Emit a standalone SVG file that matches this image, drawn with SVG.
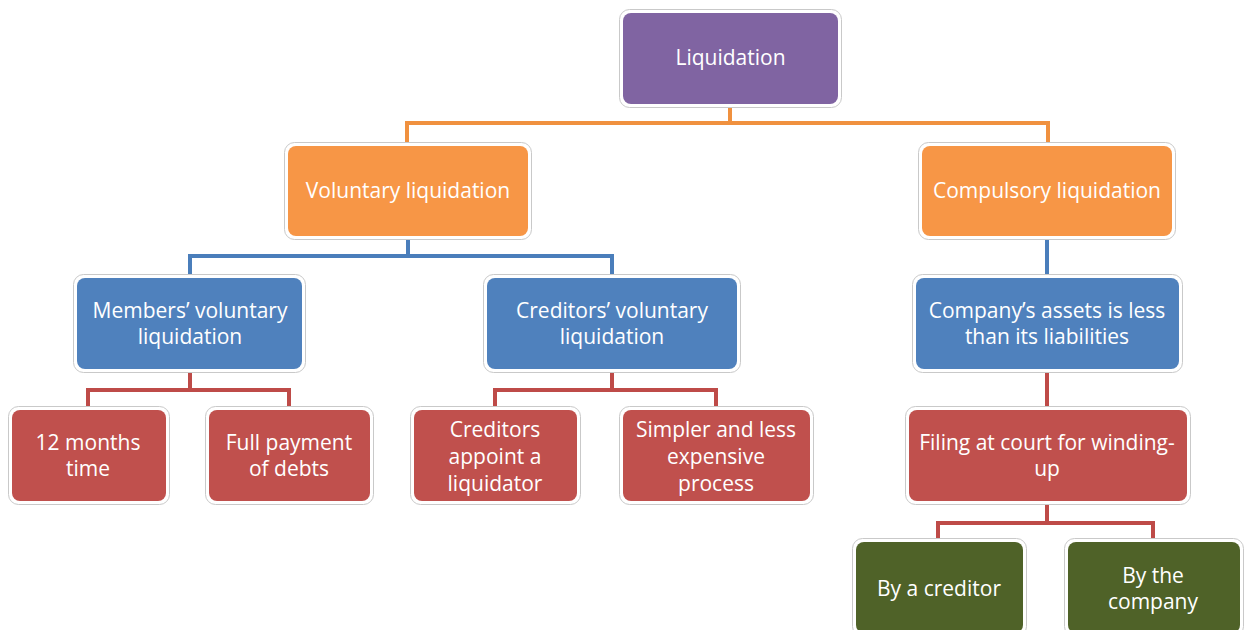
<svg xmlns="http://www.w3.org/2000/svg" width="1244" height="630" viewBox="0 0 1244 630">
  <style>
    .frame { fill: #ffffff; stroke: #c9c9c9; stroke-width: 1; }
    .purple { fill: #8064A2; }
    .orange { fill: #F79646; }
    .blue { fill: #4F81BD; }
    .red { fill: #C0504D; }
    .green { fill: #4F6228; }
    text { font-family: "Open Sans", "Noto Sans", sans-serif; font-size: 21px; fill: #ffffff; text-anchor: middle; dominant-baseline: central; }
    .c-orange { fill: none; stroke: #F0913F; stroke-width: 4; }
    .c-blue { fill: none; stroke: #4A7EBB; stroke-width: 4; }
    .c-red { fill: none; stroke: #BE4B48; stroke-width: 4; }
  </style>

  <!-- connectors -->
  <g id="connectors">
    <path class="c-orange" d="M730,106 V123 M407,123 H1048 M407,121 V145 M1048,121 V145"/>
    <path class="c-blue" d="M408,238 V256 M190,256 H612 M190,254 V277 M612,254 V277"/>
    <path class="c-blue" d="M1047,238 V277"/>
    <path class="c-red" d="M190,372 V390 M88,390 H289 M88,388 V409 M289,388 V409"/>
    <path class="c-red" d="M612,372 V390 M495,390 H716 M495,388 V409 M716,388 V409"/>
    <path class="c-red" d="M1047,372 V409"/>
    <path class="c-red" d="M1047,504 V523 M938,523 H1153 M938,521 V541 M1153,521 V541"/>
  </g>

  <!-- level 0 -->
  <g id="liquidation">
    <rect class="frame" x="619.5" y="9.5" width="222" height="98" rx="10"/>
    <rect class="purple" x="623" y="13" width="215" height="91" rx="8"/>
    <text x="730.5" y="57">Liquidation</text>
  </g>

  <!-- level 1 -->
  <g id="voluntary">
    <rect class="frame" x="284.5" y="142.5" width="247" height="97" rx="10"/>
    <rect class="orange" x="288" y="146" width="240" height="90" rx="8"/>
    <text x="408" y="190">Voluntary liquidation</text>
  </g>
  <g id="compulsory">
    <rect class="frame" x="918.5" y="142.5" width="257" height="97" rx="10"/>
    <rect class="orange" x="922" y="146" width="250" height="90" rx="8"/>
    <text x="1047" y="190">Compulsory liquidation</text>
  </g>

  <!-- level 2 -->
  <g id="members">
    <rect class="frame" x="73.5" y="274.5" width="232" height="98" rx="10"/>
    <rect class="blue" x="77" y="278" width="225" height="91" rx="8"/>
    <text x="190" y="310">Members’ voluntary</text>
    <text x="190" y="336">liquidation</text>
  </g>
  <g id="creditors">
    <rect class="frame" x="483.5" y="274.5" width="257" height="98" rx="10"/>
    <rect class="blue" x="487" y="278" width="250" height="91" rx="8"/>
    <text x="612" y="310">Creditors’ voluntary</text>
    <text x="612" y="336">liquidation</text>
  </g>
  <g id="assets">
    <rect class="frame" x="912.5" y="274.5" width="270" height="98" rx="10"/>
    <rect class="blue" x="916" y="278" width="263" height="91" rx="8"/>
    <text x="1047" y="310">Company’s assets is less</text>
    <text x="1047" y="336">than its liabilities</text>
  </g>

  <!-- level 3 -->
  <g id="months">
    <rect class="frame" x="8.5" y="406.5" width="161" height="98" rx="10"/>
    <rect class="red" x="12" y="410" width="154" height="91" rx="8"/>
    <text x="88" y="442">12 months</text>
    <text x="88" y="468">time</text>
  </g>
  <g id="payment">
    <rect class="frame" x="205.5" y="406.5" width="168" height="98" rx="10"/>
    <rect class="red" x="209" y="410" width="161" height="91" rx="8"/>
    <text x="289" y="442">Full payment</text>
    <text x="289" y="468">of debts</text>
  </g>
  <g id="appoint">
    <rect class="frame" x="410.5" y="406.5" width="170" height="98" rx="10"/>
    <rect class="red" x="414" y="410" width="163" height="91" rx="8"/>
    <text x="495" y="429">Creditors</text>
    <text x="495" y="456">appoint a</text>
    <text x="495" y="483">liquidator</text>
  </g>
  <g id="simpler">
    <rect class="frame" x="619.5" y="406.5" width="194" height="98" rx="10"/>
    <rect class="red" x="623" y="410" width="187" height="91" rx="8"/>
    <text x="716" y="429">Simpler and less</text>
    <text x="716" y="456">expensive</text>
    <text x="716" y="483">process</text>
  </g>
  <g id="filing">
    <rect class="frame" x="905.5" y="406.5" width="285" height="98" rx="10"/>
    <rect class="red" x="909" y="410" width="278" height="91" rx="8"/>
    <text x="1047" y="442">Filing at court for winding-</text>
    <text x="1047" y="468">up</text>
  </g>

  <!-- level 4 -->
  <g id="by-creditor">
    <rect class="frame" x="852.5" y="538.5" width="174" height="98" rx="10"/>
    <rect class="green" x="856" y="542" width="167" height="91" rx="8"/>
    <text x="939" y="588">By a creditor</text>
  </g>
  <g id="by-company">
    <rect class="frame" x="1064.5" y="538.5" width="179" height="98" rx="10"/>
    <rect class="green" x="1068" y="542" width="172" height="91" rx="8"/>
    <text x="1153" y="575">By the</text>
    <text x="1153" y="601">company</text>
  </g>
</svg>
